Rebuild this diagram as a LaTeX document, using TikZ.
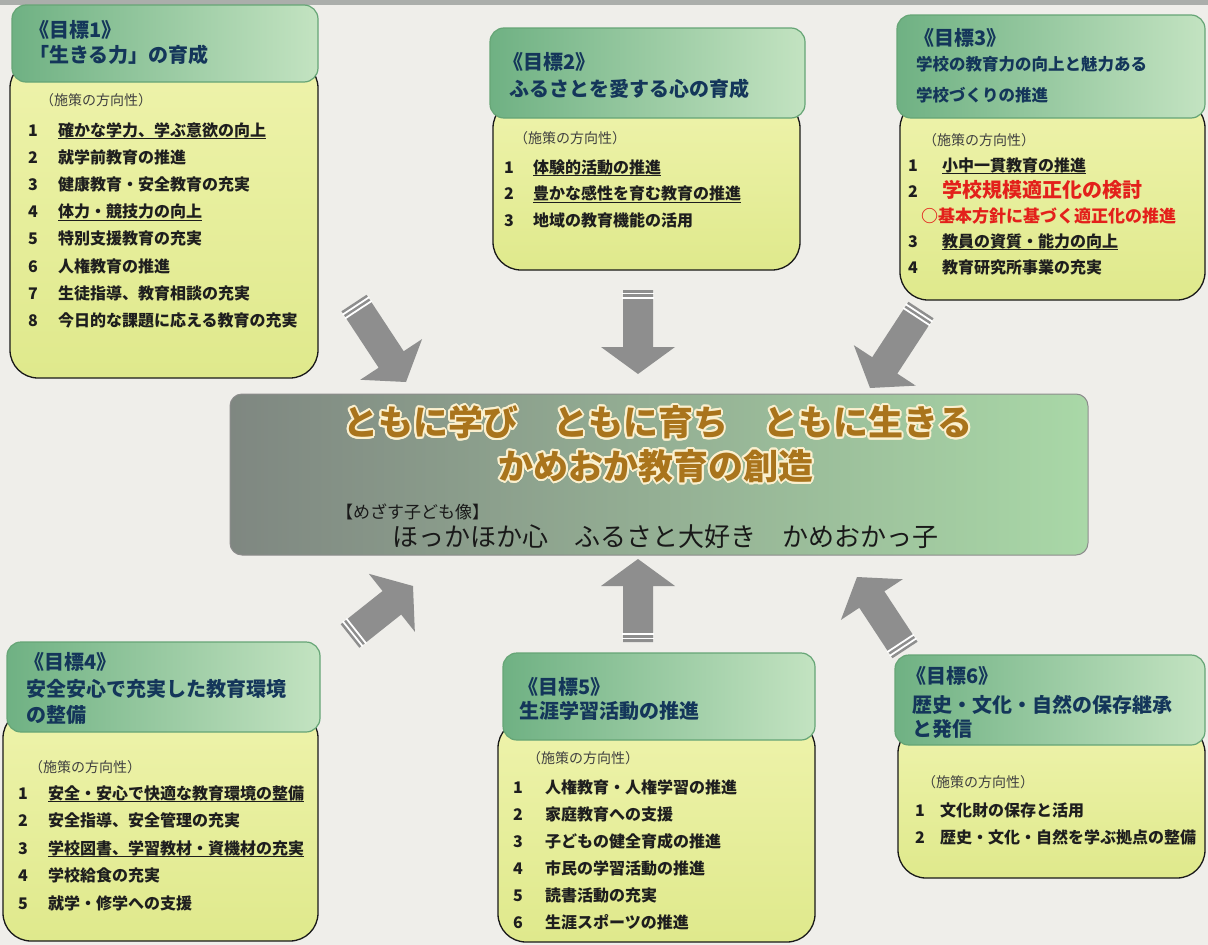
\documentclass[tikz,border=0pt]{standalone}
\usepackage{fontspec}
\setmainfont{Noto Sans CJK JP}
\newfontfamily\jpheavy{Noto Sans CJK JP Black}
\usepackage[copies]{contour}
\contourlength{1.7pt}
\contournumber{24}
\usetikzlibrary{calc}
\definecolor{bg}{HTML}{EFEEEA}
\definecolor{topbar}{HTML}{ABAEAB}
\definecolor{hdark}{HTML}{6FB183}
\definecolor{hlight}{HTML}{C3E3C1}
\definecolor{hborder}{HTML}{66A576}
\definecolor{btop}{HTML}{EEF3AB}
\definecolor{bmid}{HTML}{F5F5DF}
\definecolor{bbot}{HTML}{DFE98C}
\definecolor{navy}{HTML}{14365A}
\definecolor{itemcol}{HTML}{1E1E1E}
\definecolor{redtxt}{HTML}{E3201B}
\definecolor{arrowfill}{HTML}{8E8E8E}
\definecolor{cleft}{HTML}{7F8781}
\definecolor{cmid}{HTML}{86B68F}
\definecolor{cright}{HTML}{A9D8A7}
\definecolor{gold}{HTML}{A9741C}
\definecolor{cream}{HTML}{FBF0CF}
\newcommand\ulx[1]{\setbox0=\hbox{#1}\rlap{\rule[-3.2pt]{\wd0}{1.1pt}}\box0}
\newcommand\blockarr[2]{%
  \coordinate (hb) at ($(#2)!27pt!(#1)$);
  \coordinate (s1) at ($(#1)!3.5pt!(#2)$);
  \coordinate (s2) at ($(#1)!8pt!(#2)$);
  \fill[arrowfill] ($(#1)!15pt!90:(#2)$) -- ($(hb)!15pt!90:(#2)$) -- ($(hb)!37pt!90:(#2)$) -- (#2)
     -- ($(hb)!37pt!-90:(#2)$) -- ($(hb)!15pt!-90:(#2)$) -- ($(#1)!15pt!-90:(#2)$) -- cycle;
  \draw[stripe] ($(s1)!16pt!90:(#2)$) -- ($(s1)!16pt!-90:(#2)$);
  \draw[stripe] ($(s2)!16pt!90:(#2)$) -- ($(s2)!16pt!-90:(#2)$);
}
\tikzset{
  bodybox/.style={draw=black!90, line width=1.3pt, rounded corners=28pt, top color=btop, middle color=bmid, bottom color=bbot, inner sep=0, outer sep=0},
  hdrbox/.style={draw=hborder, line width=1.2pt, rounded corners=14pt, left color=hdark, right color=hlight, inner sep=0, outer sep=0},
  centerbox/.style={draw=black!45, line width=1pt, rounded corners=12pt, left color=cleft, middle color=cmid, right color=cright, inner sep=0, outer sep=0},
  hdrtext/.style={font=\jpheavy\fontsize{20}{22}\selectfont, text=navy, anchor=west, inner sep=0, text height=17.6pt, text depth=2.4pt},
  hdrsmall/.style={font=\jpheavy\fontsize{16.5}{18}\selectfont, text=navy, anchor=west, inner sep=0, text height=14.5pt, text depth=2pt},
  item/.style={font=\bfseries\fontsize{16}{18}\selectfont, text=itemcol, anchor=west, inner sep=0, text height=14.1pt, text depth=1.9pt},
  num/.style={font=\bfseries\fontsize{16}{18}\selectfont, text=itemcol, anchor=center, inner sep=0, text height=14.1pt, text depth=1.9pt},
  policy/.style={font=\fontsize{14}{16}\selectfont, text=black!75, anchor=west, inner sep=0, text height=12.3pt, text depth=1.7pt},
  redbig/.style={font=\bfseries\fontsize{20}{22}\selectfont, text=redtxt, anchor=west, inner sep=0, text height=17.6pt, text depth=2.4pt},
  redmid/.style={font=\bfseries\fontsize{17}{19}\selectfont, text=redtxt, anchor=west, inner sep=0, text height=15pt, text depth=2pt},
  title/.style={font=\jpheavy\fontsize{35}{40}\selectfont, text=gold, anchor=center, inner sep=0},
  motto/.style={font=\fontsize{26}{30}\selectfont, text=black!90, anchor=west, inner sep=0, text height=22.9pt, text depth=3.1pt},
  mottohead/.style={font=\fontsize{17}{20}\selectfont, text=black!90, anchor=west, inner sep=0, text height=15pt, text depth=2pt},
  stripe/.style={draw=white, line width=1.8pt}
}
\begin{document}
\begin{tikzpicture}[x=1pt,y=-1pt]
\useasboundingbox (0,0) rectangle (1208,945);
\fill[bg] (0,0) rectangle (1208,945);
\fill[topbar] (0,0) rectangle (1208,5);

% ---------- Box 1 ----------
\node[bodybox, minimum width=308, minimum height=318] (body1) at (164,219) {};
\node[hdrbox, minimum width=306, minimum height=77] (head1) at (165,43.5) {};
\node[hdrtext] (h1a) at (29,30) {《目標\textit{1}》};
\node[hdrtext] (h1b) at (29,55) {「生きる力」の育成};
\node[policy] (p1) at (40,100) {（施策の方向性）};
\foreach \t [count=\k] in {{\ulx{確かな学力、学ぶ意欲の向上}},就学前教育の推進,健康教育・安全教育の充実,{\ulx{体力・競技力の向上}},特別支援教育の充実,人権教育の推進,生徒指導、教育相談の充実,今日的な課題に応える教育の充実}{
  \node[num] (n1-\k) at (33,{130+(\k-1)*27.2}) {\k};
  \node[item] (i1-\k) at (58,{130+(\k-1)*27.2}) {\t};
}

% ---------- Box 2 ----------
\node[bodybox, minimum width=307, minimum height=170] (body2) at (646.5,185) {};
\node[hdrbox, minimum width=315, minimum height=90] (head2) at (647.5,73) {};
\node[hdrtext] (h2a) at (503,62) {《目標\textit{2}》};
\node[hdrtext] (h2b) at (509,89) {ふるさとを愛する心の育成};
\node[policy] (p2) at (514,138) {（施策の方向性）};
\foreach \t [count=\k] in {{\ulx{体験的活動の推進}},{\ulx{豊かな感性を育む教育の推進}},地域の教育機能の活用}{
  \node[num] (n2-\k) at (509,{167+(\k-1)*26.5}) {\k};
  \node[item] (i2-\k) at (533,{167+(\k-1)*26.5}) {\t};
}

% ---------- Box 3 ----------
\node[bodybox, minimum width=305, minimum height=200] (body3) at (1052.5,200) {};
\node[hdrbox, minimum width=308, minimum height=103] (head3) at (1051,66.5) {};
\node[hdrtext] (h3a) at (914,38) {《目標\textit{3}》};
\node[hdrsmall] (h3b) at (916,64) {学校の教育力の向上と魅力ある};
\node[hdrsmall] (h3c) at (916,95) {学校づくりの推進};
\node[policy] (p3) at (923,140) {（施策の方向性）};
\node[num] (n3-1) at (913,165) {1};
\node[item] (i3-1) at (942,165) {\ulx{小中一貫教育の推進}};
\node[num] (n3-2) at (913,191) {2};
\node[redbig] (i3-2) at (942,190) {学校規模適正化の検討};
\node[redmid] (i3-2b) at (921,216) {○基本方針に基づく適正化の推進};
\node[num] (n3-3) at (913,241) {3};
\node[item] (i3-3) at (942,241) {\ulx{教員の資質・能力の向上}};
\node[num] (n3-4) at (913,267) {4};
\node[item] (i3-4) at (942,267) {教育研究所事業の充実};

% ---------- Box 4 ----------
\node[bodybox, minimum width=315, minimum height=231] (body4) at (160.5,825.5) {};
\node[hdrbox, minimum width=313, minimum height=90] (head4) at (163.5,687) {};
\node[hdrtext] (h4a) at (24,662) {《目標\textit{4}》};
\node[hdrtext] (h4b) at (26,689) {安全安心で充実した教育環境};
\node[hdrtext] (h4c) at (26,715) {の整備};
\node[policy] (p4) at (29,767) {（施策の方向性）};
\foreach \t [count=\k] in {{\ulx{安全・安心で快適な教育環境の整備}},安全指導、安全管理の充実,{\ulx{学校図書、学習教材・資機材の充実}},学校給食の充実,就学・修学への支援}{
  \node[num] (n4-\k) at (23,{793+(\k-1)*27.5}) {\k};
  \node[item] (i4-\k) at (48,{793+(\k-1)*27.5}) {\t};
}

% ---------- Box 5 ----------
\node[bodybox, minimum width=317, minimum height=222] (body5) at (656.5,831) {};
\node[hdrbox, minimum width=312, minimum height=87] (head5) at (659,696.5) {};
\node[hdrtext] (h5a) at (518,687) {《目標\textit{5}》};
\node[hdrtext] (h5b) at (519,711) {生涯学習活動の推進};
\node[policy] (p5) at (527,758) {（施策の方向性）};
\foreach \t [count=\k] in {人権教育・人権学習の推進,家庭教育への支援,子どもの健全育成の推進,市民の学習活動の推進,読書活動の充実,生涯スポーツの推進}{
  \node[num] (n5-\k) at (518,{787+(\k-1)*27}) {\k};
  \node[item] (i5-\k) at (545,{787+(\k-1)*27}) {\t};
}

% ---------- Box 6 ----------
\node[bodybox, minimum width=307, minimum height=153] (body6) at (1051.5,801.5) {};
\node[hdrbox, minimum width=310, minimum height=90] (head6) at (1050,700) {};
\node[hdrtext] (h6a) at (906,676) {《目標\textit{6}》};
\node[hdrtext] (h6b) at (912,705) {歴史・文化・自然の保存継承};
\node[hdrtext] (h6c) at (912,729) {と発信};
\node[policy] (p6) at (922,782) {（施策の方向性）};
\foreach \t [count=\k] in {文化財の保存と活用,歴史・文化・自然を学ぶ拠点の整備}{
  \node[num] (n6-\k) at (920,{810+(\k-1)*27}) {\k};
  \node[item] (i6-\k) at (940,{810+(\k-1)*27}) {\t};
}

% ---------- Center ----------
\node[centerbox, minimum width=858, minimum height=161] (center) at (659,474.5) {};
\node[title] (t1) at (658,423) {\contour{cream}{ともに学び　ともに育ち　ともに生きる}};
\node[title] (t2) at (656,467) {\contour{cream}{かめおか教育の創造}};
\node[mottohead] (m1) at (336,512) {【めざす子ども像】};
\node[motto] (m2) at (392,537) {ほっかほか心　ふるさと大好き　かめおかっ子};

% ---------- Arrows ----------
\coordinate (a1s) at (354,303); \coordinate (a1e) at (406,382);
\coordinate (a2s) at (638,290); \coordinate (a2e) at (638,374);
\coordinate (a3s) at (921,310); \coordinate (a3e) at (870,388);
\coordinate (a4s) at (350,636); \coordinate (a4e) at (413,586);
\coordinate (a5s) at (638,642); \coordinate (a5e) at (638,559);
\coordinate (a6s) at (905,650); \coordinate (a6e) at (857,577);
\blockarr{a1s}{a1e}
\blockarr{a2s}{a2e}
\blockarr{a3s}{a3e}
\blockarr{a4s}{a4e}
\blockarr{a5s}{a5e}
\blockarr{a6s}{a6e}
\end{tikzpicture}
\end{document}
